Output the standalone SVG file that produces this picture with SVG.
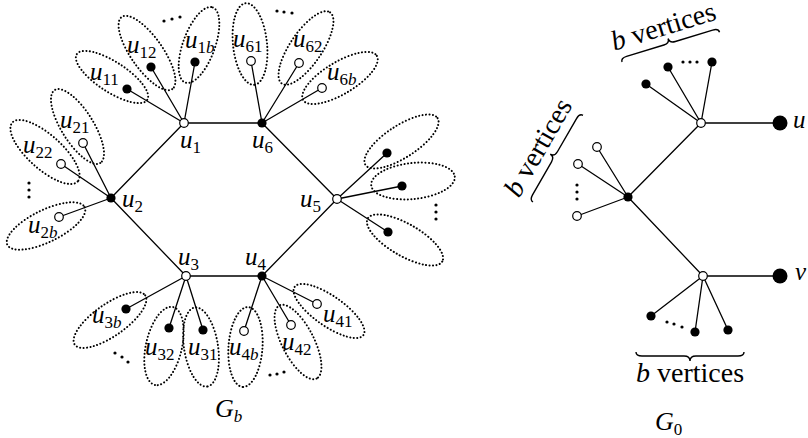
<svg xmlns="http://www.w3.org/2000/svg" width="808" height="438" viewBox="0 0 808 438">
<style>
.e{stroke:#000;stroke-width:1.3;fill:none}
.o{fill:#fff;stroke:#000;stroke-width:1.2}
.f{fill:#000}
.el{fill:none;stroke:#000;stroke-width:2;stroke-dasharray:0.1 3.4;stroke-linecap:round}
.t{font-family:"Liberation Serif",serif;font-size:25px;font-style:italic}
.s{font-size:17px;font-style:normal}
.si{font-size:17px;font-style:italic}
.bv{font-family:"Liberation Serif",serif;font-size:28px}
.br{fill:none;stroke:#000;stroke-width:1.4}
</style>
<rect width="808" height="438" fill="#fff"/>
<g id="connectors" class="e">
<path d="M184,123L262,123M184,123L111,198M111,198L186,276M186,276L262,276M262,276L337,199M337,199L262,123"/>
<path d="M184,123L127,89M184,123L151,67M184,123L195,62"/>
<path d="M262,123L251,61M262,123L299,63M262,123L322,88"/>
<path d="M111,198L83,143M111,198L61,164M111,198L59,217"/>
<path d="M337,199L387,153M337,199L402,186M337,199L388,232"/>
<path d="M186,276L126,309M186,276L169,328M186,276L203,330"/>
<path d="M262,276L244,331M262,276L291,325M262,276L317,304"/>
<path d="M701,123L780,123M701,123L646,84M701,123L668,67M701,123L712,62M701,123L628,197"/>
<path d="M628,197L597,147M628,197L578,164M628,197L577,216M628,197L703,276"/>
<path d="M703,276L780,276M703,276L651,316M703,276L695,332M703,276L728,330"/>
</g>
<g id="ellipses">
<ellipse class="el" cx="112" cy="77" rx="42" ry="15" transform="rotate(33 112 77)"/>
<ellipse class="el" cx="147" cy="53" rx="44" ry="16" transform="rotate(55 147 53)"/>
<ellipse class="el" cx="199" cy="45" rx="40" ry="16" transform="rotate(-70 199 45)"/>
<ellipse class="el" cx="250" cy="44" rx="41" ry="17" transform="rotate(84 250 44)"/>
<ellipse class="el" cx="306" cy="48" rx="43" ry="16" transform="rotate(-56 306 48)"/>
<ellipse class="el" cx="340" cy="78" rx="43" ry="16" transform="rotate(-31 340 78)"/>
<ellipse class="el" cx="77.5" cy="126.5" rx="43" ry="16" transform="rotate(58 77.5 126.5)"/>
<ellipse class="el" cx="45" cy="152" rx="44" ry="17" transform="rotate(42 45 152)"/>
<ellipse class="el" cx="46" cy="226" rx="43" ry="16" transform="rotate(-26 46 226)"/>
<ellipse class="el" cx="401.5" cy="141.5" rx="43" ry="16" transform="rotate(-33 401.5 141.5)"/>
<ellipse class="el" cx="413" cy="181" rx="42" ry="18" transform="rotate(-6 413 181)"/>
<ellipse class="el" cx="405" cy="240" rx="43" ry="16" transform="rotate(30 405 240)"/>
<ellipse class="el" cx="110" cy="320" rx="43" ry="16" transform="rotate(-35 110 320)"/>
<ellipse class="el" cx="164" cy="346" rx="40" ry="18" transform="rotate(103 164 346)"/>
<ellipse class="el" cx="201" cy="347" rx="40" ry="17" transform="rotate(81 201 347)"/>
<ellipse class="el" cx="245.5" cy="347" rx="40" ry="17" transform="rotate(94 245.5 347)"/>
<ellipse class="el" cx="298" cy="342" rx="41" ry="16" transform="rotate(63 298 342)"/>
<ellipse class="el" cx="329" cy="311" rx="42" ry="15" transform="rotate(35 329 311)"/>
</g>
<g id="dots" class="f">
<circle cx="164" cy="21" r="1.6"/><circle cx="172" cy="19" r="1.6"/><circle cx="180" cy="17" r="1.6"/>
<circle cx="277" cy="11" r="1.6"/><circle cx="284" cy="12" r="1.6"/><circle cx="292" cy="13" r="1.6"/>
<circle cx="29" cy="183" r="1.6"/><circle cx="29" cy="190" r="1.6"/><circle cx="29" cy="197" r="1.6"/>
<circle cx="436" cy="205" r="1.6"/><circle cx="436" cy="212" r="1.6"/><circle cx="436" cy="219" r="1.6"/>
<circle cx="115" cy="353" r="1.6"/><circle cx="122" cy="357" r="1.6"/><circle cx="128" cy="362" r="1.6"/>
<circle cx="270" cy="375" r="1.6"/><circle cx="277" cy="374" r="1.6"/><circle cx="284" cy="372" r="1.6"/>
<circle cx="683" cy="62" r="1.6"/><circle cx="690" cy="62" r="1.6"/><circle cx="697" cy="62" r="1.6"/>
<circle cx="577" cy="185" r="1.6"/><circle cx="577" cy="192" r="1.6"/><circle cx="577" cy="199" r="1.6"/>
<circle cx="667" cy="322" r="1.6"/><circle cx="674" cy="324" r="1.6"/><circle cx="682" cy="327" r="1.6"/>
</g>
<g id="u1"><circle class="o" cx="184" cy="123" r="4.3"/><text class="t" x="180" y="148">u<tspan class="s" dy="5">1</tspan></text></g>
<g id="u6"><circle class="f" cx="262" cy="123" r="4.6"/><text class="t" x="252" y="148">u<tspan class="s" dy="5">6</tspan></text></g>
<g id="u2"><circle class="f" cx="111" cy="198" r="4.6"/><text class="t" x="122" y="207">u<tspan class="s" dy="5">2</tspan></text></g>
<g id="u5"><circle class="o" cx="337" cy="199" r="4.3"/><text class="t" x="300" y="207">u<tspan class="s" dy="5">5</tspan></text></g>
<g id="u3"><circle class="o" cx="186" cy="276" r="4.3"/><text class="t" x="178" y="265">u<tspan class="s" dy="5">3</tspan></text></g>
<g id="u4"><circle class="f" cx="262" cy="276" r="4.6"/><text class="t" x="245" y="265">u<tspan class="s" dy="5">4</tspan></text></g>
<g id="u11"><circle class="f" cx="127" cy="89" r="4.6"/><text class="t" x="90" y="80">u<tspan class="s" dy="5">11</tspan></text></g>
<g id="u12"><circle class="f" cx="151" cy="67" r="4.6"/><text class="t" x="127" y="53">u<tspan class="s" dy="5">12</tspan></text></g>
<g id="u1b"><circle class="f" cx="195" cy="62" r="4.6"/><text class="t" x="185" y="48">u<tspan class="s" dy="5">1</tspan><tspan class="si">b</tspan></text></g>
<g id="u61"><circle class="o" cx="251" cy="61" r="4.3"/><text class="t" x="233" y="47">u<tspan class="s" dy="5">61</tspan></text></g>
<g id="u62"><circle class="o" cx="299" cy="63" r="4.3"/><text class="t" x="293" y="47">u<tspan class="s" dy="5">62</tspan></text></g>
<g id="u6b"><circle class="o" cx="322" cy="88" r="4.3"/><text class="t" x="327" y="80">u<tspan class="s" dy="5">6</tspan><tspan class="si">b</tspan></text></g>
<g id="u21"><circle class="o" cx="83" cy="143" r="4.3"/><text class="t" x="60" y="128">u<tspan class="s" dy="5">21</tspan></text></g>
<g id="u22"><circle class="o" cx="61" cy="164" r="4.3"/><text class="t" x="23" y="153">u<tspan class="s" dy="5">22</tspan></text></g>
<g id="u2b"><circle class="o" cx="59" cy="217" r="4.3"/><text class="t" x="28" y="233">u<tspan class="s" dy="5">2</tspan><tspan class="si">b</tspan></text></g>
<g id="u5a"><circle class="f" cx="387" cy="153" r="4.6"/></g>
<g id="u5m"><circle class="f" cx="402" cy="186" r="4.6"/></g>
<g id="u5c"><circle class="f" cx="388" cy="232" r="4.6"/></g>
<g id="u3b"><circle class="f" cx="126" cy="309" r="4.6"/><text class="t" x="92" y="323">u<tspan class="s" dy="5">3</tspan><tspan class="si">b</tspan></text></g>
<g id="u32"><circle class="f" cx="169" cy="328" r="4.6"/><text class="t" x="145" y="355">u<tspan class="s" dy="5">32</tspan></text></g>
<g id="u31"><circle class="f" cx="203" cy="330" r="4.6"/><text class="t" x="188" y="355">u<tspan class="s" dy="5">31</tspan></text></g>
<g id="u4b"><circle class="o" cx="244" cy="331" r="4.3"/><text class="t" x="229" y="355">u<tspan class="s" dy="5">4</tspan><tspan class="si">b</tspan></text></g>
<g id="u42"><circle class="o" cx="291" cy="325" r="4.3"/><text class="t" x="282" y="350">u<tspan class="s" dy="5">42</tspan></text></g>
<g id="u41"><circle class="o" cx="317" cy="304" r="4.3"/><text class="t" x="323" y="322">u<tspan class="s" dy="5">41</tspan></text></g>
<g id="Gb"><text class="t" x="215" y="417" style="font-size:26px">G<tspan class="si" dy="5">b</tspan></text></g>
<g id="g0-top"><circle class="o" cx="701" cy="123" r="4.3"/></g>
<g id="g0-u"><circle class="f" cx="780" cy="123" r="7.5"/><text class="t" x="793" y="128">u</text></g>
<g id="g0-t1"><circle class="f" cx="646" cy="84" r="4.6"/></g>
<g id="g0-t2"><circle class="f" cx="668" cy="67" r="4.6"/></g>
<g id="g0-t3"><circle class="f" cx="712" cy="62" r="4.6"/></g>
<g id="g0-mid"><circle class="f" cx="628" cy="197" r="4.6"/></g>
<g id="g0-m1"><circle class="o" cx="597" cy="147" r="4.3"/></g>
<g id="g0-m2"><circle class="o" cx="578" cy="164" r="4.3"/></g>
<g id="g0-m3"><circle class="o" cx="577" cy="216" r="4.3"/></g>
<g id="g0-bot"><circle class="o" cx="703" cy="276" r="4.3"/></g>
<g id="g0-v"><circle class="f" cx="780" cy="276" r="7.5"/><text class="t" x="795" y="280">v</text></g>
<g id="g0-b1"><circle class="f" cx="651" cy="316" r="4.6"/></g>
<g id="g0-b2"><circle class="f" cx="695" cy="332" r="4.6"/></g>
<g id="g0-b3"><circle class="f" cx="728" cy="330" r="4.6"/></g>
<g id="braces">
<path class="br" transform="translate(622,62) rotate(-17)" d="M0,0Q0,-4 6,-4L45,-4Q51,-4 51,-9Q51,-4 57,-4L96,-4Q102,-4 102,0"/>
<path class="br" transform="translate(533,202) rotate(-60)" d="M0,0Q0,-4 6,-4L44,-4Q50,-4 50,-9Q50,-4 56,-4L94,-4Q100,-4 100,0"/>
<path class="br" d="M636,352Q636,356 642,356L684,356Q690,356 690,361Q690,356 696,356L738,356Q744,356 744,352"/>
<text class="bv" x="666" y="35" text-anchor="middle" transform="rotate(-17 666 35)"><tspan font-style="italic">b</tspan> vertices</text>
<text class="bv" x="546" y="152" text-anchor="middle" transform="rotate(-60 546 152)"><tspan font-style="italic">b</tspan> vertices</text>
<text class="bv" x="690" y="382" text-anchor="middle"><tspan font-style="italic">b</tspan> vertices</text>
</g>
<g id="G0"><text class="t" x="655" y="430" style="font-size:26px">G<tspan class="s" dy="5">0</tspan></text></g>
</svg>
